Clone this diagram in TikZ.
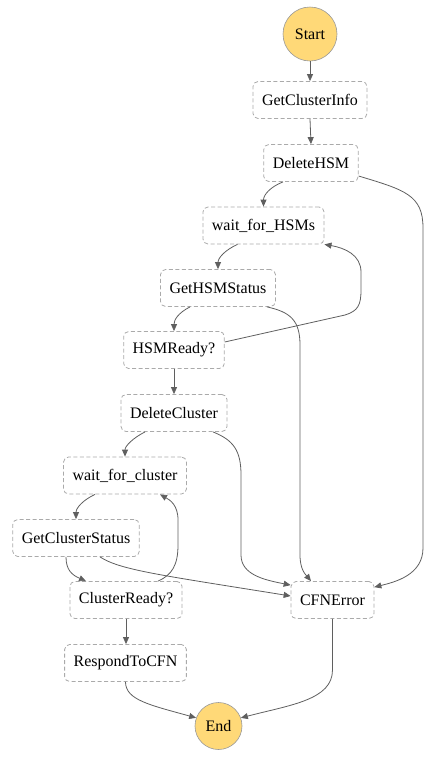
\documentclass[tikz,border=0pt]{standalone}
\usepackage{fontspec}
\setmainfont{Liberation Serif}
\usetikzlibrary{arrows.meta}
\definecolor{startfill}{RGB}{255,217,120}
\definecolor{edgecol}{RGB}{95,95,95}
\definecolor{boxline}{RGB}{170,170,170}
\begin{document}
\begin{tikzpicture}[x=1pt,y=-1pt,
  state/.style={draw=boxline, dash pattern=on 4pt off 2.5pt, line width=0.8pt, rounded corners=5pt,
    fill=white, minimum height=37pt, inner xsep=9pt, font=\fontsize{16}{18}\selectfont},
  term/.style={circle, draw=gray!80, line width=0.6pt, fill=startfill, inner sep=0pt,
    font=\fontsize{16}{18}\selectfont},
  conn/.style={draw=edgecol, line width=0.8pt, -{Triangle[length=7pt,width=6pt]}}]
\useasboundingbox (0,0) rectangle (435,761);
\node[term, minimum size=54pt] (start) at (310,34) {Start};
\node[state] (gci) at (310,100) {GetClusterInfo};
\node[state] (dhsm) at (311,163) {DeleteHSM};
\node[state] (wfh) at (263.5,225.5) {wait\_for\_HSMs};
\node[state] (ghs) at (218,288) {GetHSMStatus};
\node[state] (hr) at (174,350) {HSMReady?};
\node[state] (dc) at (174,413) {DeleteCluster};
\node[state] (wfc) at (125,475.5) {wait\_for\_cluster};
\node[state] (gcs) at (76,538) {GetClusterStatus};
\node[state] (cr) at (126,600) {ClusterReady?};
\node[state] (cfn) at (332.5,600) {CFNError};
\node[state] (rtc) at (125.5,663) {RespondToCFN};
\node[term, minimum size=47pt] (end) at (218.5,726) {End};

\draw[conn] (start.south) -- (gci.north);
\draw[conn] (gci.south) -- (dhsm.north);
\draw[conn] ([xshift=-28pt]dhsm.south) .. controls (270,187) and (263.5,195) .. (wfh.north);
\draw[conn] ([yshift=-13pt]dhsm.east) .. controls (405,190) and (423,195) .. (423,228) -- (423,548)
  .. controls (423,575) and (395,582) .. ([yshift=-6pt]cfn.north east);
\draw[conn] ([xshift=-26pt]wfh.south) .. controls (225,250) and (218,258) .. (ghs.north);
\draw[conn] ([xshift=49pt]ghs.south) .. controls (290,312) and (300,320) .. (300,345) -- (300,555)
  .. controls (300,570) and (306,575) .. ([xshift=-21.5pt]cfn.north);
\draw[conn] ([xshift=-28pt]ghs.south) .. controls (178,313) and (174,320) .. (hr.north);
\draw[conn] ([yshift=8pt]hr.east) -- (345,315) .. controls (358,311) and (361,305) .. (361,290) -- (361,272)
  .. controls (361,255) and (345,248) .. (wfh.south east);
\draw[conn] (hr.south) -- (dc.north);
\draw[conn] ([xshift=-29pt]dc.south) .. controls (133,438) and (125,446) .. (wfc.north);
\draw[conn] ([xshift=39pt]dc.south) .. controls (233,440) and (241,450) .. (241,475) -- (241,555)
  .. controls (241,575) and (265,580) .. ([yshift=-4pt]cfn.north west);
\draw[conn] ([xshift=-30pt]wfc.south) .. controls (83,500) and (76,508) .. (gcs.north);
\draw[conn] ([xshift=-10pt]gcs.south) .. controls (66,570) and (72,575) .. ([xshift=-40pt]cr.north);
\draw[conn] ([xshift=24pt]gcs.south) .. controls (120,570) and (160,575) .. ([yshift=4pt]cfn.west);
\draw[conn] ([xshift=32pt]cr.north) .. controls (172,575) and (178,565) .. (178,545) -- (178,520)
  .. controls (178,505) and (170,500) .. ([xshift=35pt]wfc.south);
\draw[conn] (cr.south) -- (cr.south |- rtc.north);
\draw[conn] (rtc.south) .. controls (125.5,700) and (150,705) .. (end.160);
\draw[conn] (cfn.south) -- (332.5,670) .. controls (332.5,700) and (290,705) .. (end.20);
\end{tikzpicture}
\end{document}
